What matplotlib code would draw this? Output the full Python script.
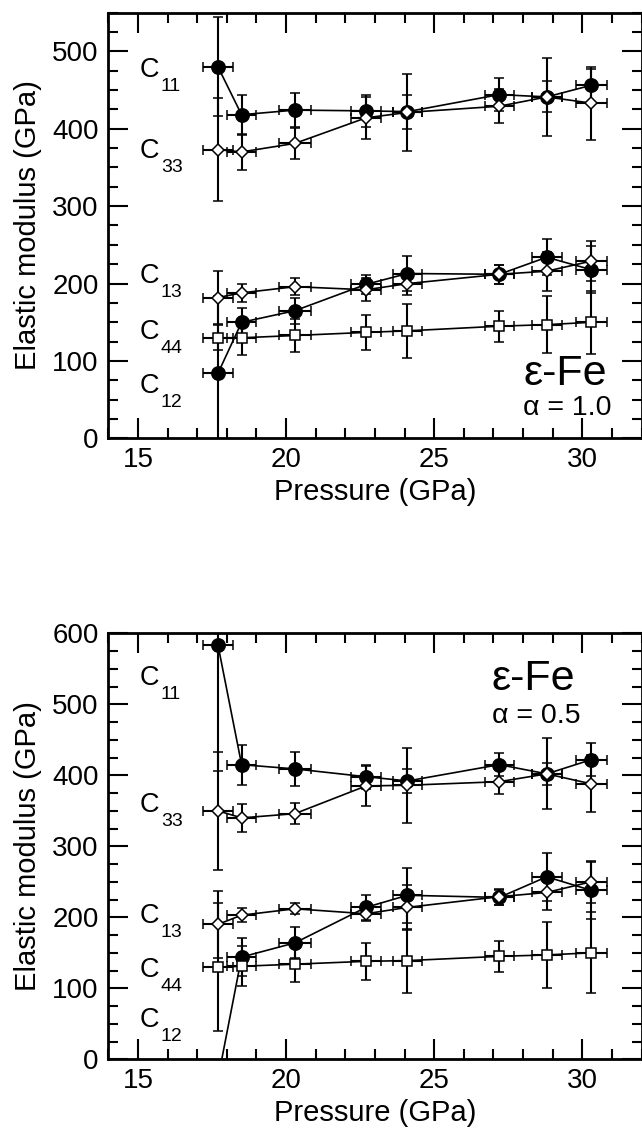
#
# Elastic moduli of eps-Fe vs pressure, two panels (alpha = 1.0 and 0.5)
#
import matplotlib
matplotlib.use('Agg')
import matplotlib.pyplot as plt
from matplotlib.ticker import MultipleLocator

plt.rcParams['font.family'] = ['Liberation Sans', 'DejaVu Sans']

# pressure points (GPa) and their error
pressure = [17.7, 18.5, 20.3, 22.7, 24.1, 27.2, 28.8, 30.3]
pressure_err = [0.5, 0.48, 0.53, 0.5, 0.5, 0.48, 0.5, 0.52]

# alpha = 1.0
c11_a10 = [480, 418, 424, 423, 422, 444, 441, 456]
c11_a10_err = [64, 26, 22, 21, 22, 21, 20, 21]
c33_a10 = [373, 370, 381, 414, 421, 429, 441, 433]
c33_a10_err = [66, 23, 20, 27, 50, 22, 50, 47]
c12_a10 = [84, 150, 165, 199, 213, 212, 234, 218]
c12_a10_err = [100, 19, 17, 12, 23, 12, 23, 30]
c13_a10 = [182, 188, 196, 192, 200, 212, 216, 229]
c13_a10_err = [34, 12, 11, 15, 15, 12, 25, 26]
c44_a10 = [130, 130, 133, 137, 139, 145, 147, 150]
c44_a10_err = [16, 22, 21, 23, 35, 20, 37, 41]

# alpha = 0.5
c11_a05 = [584, 415, 409, 398, 392, 415, 402, 422]
c11_a05_err = [178, 28, 24, 17, 17, 16, 15, 23]
c33_a05 = [350, 340, 346, 385, 386, 391, 402, 388]
c33_a05_err = [83, 20, 15, 28, 53, 17, 50, 40]
c12_a05 = [-28, 144, 164, 214, 231, 228, 257, 238]
c12_a05_err = [25, 27, 22, 18, 39, 11, 34, 40]
c13_a05 = [190, 203, 212, 205, 214, 229, 235, 250]
c13_a05_err = [47, 10, 8, 10, 32, 11, 25, 30]
c44_a05 = [130, 131, 134, 138, 139, 145, 147, 150]
c44_a05_err = [90, 28, 25, 26, 45, 22, 46, 57]

labels = ['11', '33', '13', '44', '12']

W, H = 642, 1129
fig = plt.figure(figsize=(W / 100, H / 100), dpi=100)

x0 = 108.3 / W
aw = (641.5 - 108.3) / W
ah = 426 / H
ax_top = fig.add_axes([x0, 1 - 438.5 / H, aw, ah])
ax_bot = fig.add_axes([x0, 1 - 1059.3 / H, aw, ah])


def series(ax, y, yerr, marker, ms, face):
    ax.errorbar(pressure, y, yerr=yerr, xerr=pressure_err, fmt='-', marker=marker,
                color='black', mfc=face, mec='black', ms=ms, mew=1.1, lw=1.2,
                elinewidth=1.5, capsize=3.6, capthick=1.5)


def panel(ax, data, ymax, label_y, title_pos, alpha_txt):
    for y, yerr, marker, ms, face in data:
        series(ax, y, yerr, marker, ms, face)
    ax.set_xlim(14, 32)
    ax.set_ylim(0, ymax)
    ax.xaxis.set_major_locator(MultipleLocator(5))
    ax.xaxis.set_minor_locator(MultipleLocator(1))
    ax.yaxis.set_major_locator(MultipleLocator(100))
    ax.yaxis.set_minor_locator(MultipleLocator(25))
    ax.tick_params(which='both', direction='in', top=True, right=True, width=1.5)
    ax.tick_params(which='major', length=14.4, labelsize=20, pad=6)
    ax.tick_params(which='minor', length=7.2)
    ax.tick_params(axis='y', pad=7)
    for s in ax.spines.values():
        s.set_linewidth(2)
    ax.set_xlabel('Pressure (GPa)', fontsize=21, labelpad=4)
    ax.set_ylabel('Elastic modulus (GPa)', fontsize=21, labelpad=7)

    for lab, yy in zip(labels, label_y):
        ax.annotate('C', xy=(0.058, yy), xycoords='axes fraction', fontsize=19.5,
                    ha='left', va='baseline')
        ax.annotate(lab, xy=(0.058, yy), xycoords='axes fraction',
                    xytext=(15.5, -10), textcoords='offset points', fontsize=14,
                    ha='left', va='baseline')

    tx, ty1, ty2 = title_pos
    ax.text(tx, ty1, 'ε-Fe', transform=ax.transAxes, fontsize=31,
            ha='left', va='baseline')
    ax.text(tx, ty2, alpha_txt, transform=ax.transAxes, fontsize=20.5,
            ha='left', va='baseline')


top_data = [
    (c11_a10, c11_a10_err, 'o', 9.6, 'black'),
    (c33_a10, c33_a10_err, 'D', 6.4, 'white'),
    (c12_a10, c12_a10_err, 'o', 9.6, 'black'),
    (c13_a10, c13_a10_err, 'D', 6.4, 'white'),
    (c44_a10, c44_a10_err, 's', 7.2, 'white'),
]
bot_data = [
    (c11_a05, c11_a05_err, 'o', 9.6, 'black'),
    (c33_a05, c33_a05_err, 'D', 6.4, 'white'),
    (c12_a05, c12_a05_err, 'o', 9.6, 'black'),
    (c13_a05, c13_a05_err, 'D', 6.4, 'white'),
    (c44_a05, c44_a05_err, 's', 7.2, 'white'),
]

panel(ax_top, top_data, 550, [0.849, 0.658, 0.364, 0.233, 0.106],
      (0.778, 0.126, 0.055), 'α = 1.0')
panel(ax_bot, bot_data, 600, [0.879, 0.581, 0.319, 0.194, 0.0765],
      (0.719, 0.867, 0.790), 'α = 0.5')

fig.savefig('out.png', dpi=100)
